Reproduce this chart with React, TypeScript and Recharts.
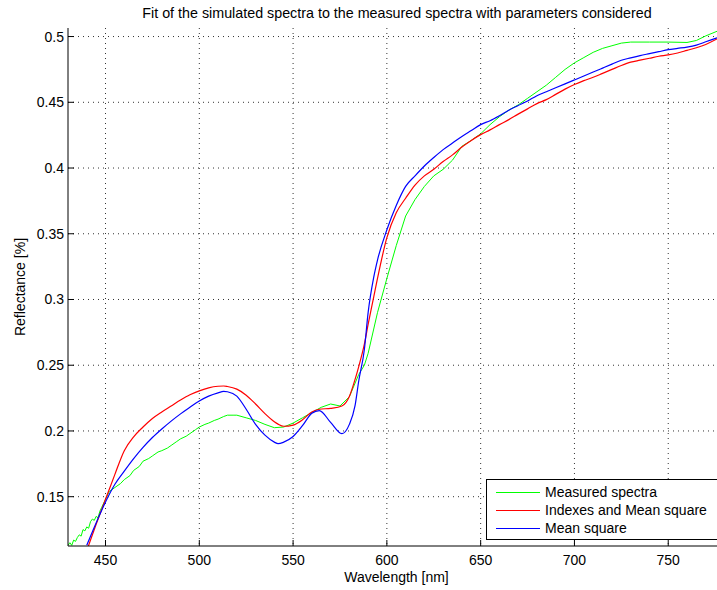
import React from 'react';
import { LineChart, Line, XAxis, YAxis, CartesianGrid, Legend, Label } from 'recharts';

// wavelength grid for the two fitted curves
const fitNm = [
  440, 445, 450, 455, 460, 465, 470, 475, 480, 485, 490, 495, 500, 505, 510, 513, 515, 520, 525, 530,
  535, 540, 542, 545, 550, 555, 560, 564, 570, 576, 580, 583, 585, 588, 590, 593, 595, 600, 605, 610,
  615, 620, 625, 630, 635, 640, 645, 650, 655, 660, 665, 670, 675, 680, 685, 690, 695, 700, 705, 710,
  715, 720, 725, 730, 735, 740, 745, 750, 755, 760, 765, 770, 776,
];
const indexesMeanSquare = [
  0.109, 0.129, 0.148, 0.167, 0.185, 0.1955, 0.203, 0.2095, 0.2145, 0.219, 0.2235, 0.2275, 0.2305, 0.2328, 0.234, 0.2342, 0.2338, 0.2318, 0.2272, 0.2205,
  0.2132, 0.207, 0.2052, 0.2036, 0.2045, 0.2085, 0.2145, 0.2165, 0.2172, 0.219, 0.2263, 0.239, 0.249, 0.266, 0.281, 0.302, 0.316, 0.347, 0.366, 0.377,
  0.387, 0.394, 0.399, 0.405, 0.41, 0.416, 0.421, 0.4254, 0.429, 0.433, 0.4368, 0.441, 0.445, 0.449, 0.452, 0.456, 0.46, 0.4635, 0.4665, 0.469,
  0.472, 0.475, 0.478, 0.4805, 0.482, 0.4835, 0.485, 0.486, 0.4875, 0.4895, 0.4915, 0.494, 0.4982,
];
const meanSquare = [
  0.113, 0.13, 0.146, 0.1595, 0.1695, 0.179, 0.1875, 0.195, 0.2015, 0.2075, 0.213, 0.218, 0.2228, 0.2265, 0.229, 0.2301, 0.2298, 0.2265, 0.2165, 0.205,
  0.1968, 0.1915, 0.1903, 0.1915, 0.1958, 0.204, 0.2135, 0.2155, 0.2065, 0.1979, 0.205, 0.219, 0.238, 0.262, 0.29, 0.317, 0.33, 0.353, 0.3715, 0.386,
  0.394, 0.4015, 0.408, 0.414, 0.419, 0.424, 0.4285, 0.433, 0.436, 0.4398, 0.444, 0.4475, 0.451, 0.455, 0.458, 0.461, 0.464, 0.467, 0.47, 0.473,
  0.476, 0.479, 0.482, 0.4838, 0.4855, 0.487, 0.4885, 0.49, 0.491, 0.492, 0.4935, 0.496, 0.499,
];

// measured spectrum (noisy)
const measuredNm = [
  430, 431, 432, 433, 434, 435, 436, 437, 438, 439, 440, 441, 442, 443, 444, 445, 446, 447, 448, 450,
  452, 455, 458, 460, 463, 465, 468, 470, 473, 475, 478, 480, 483, 485, 488, 490, 493, 495, 498, 500,
  503, 505, 508, 510, 513, 515, 518, 520, 525, 530, 535, 540, 545, 550, 555, 560, 565, 570, 575, 580,
  585, 588, 590, 595, 600, 605, 610, 615, 620, 625, 630, 635, 640, 645, 650, 655, 660, 665, 670, 675,
  680, 685, 690, 695, 700, 705, 710, 715, 720, 725, 730, 740, 750, 760, 765, 770, 776,
];
const measured = [
  0.113, 0.115, 0.113, 0.117, 0.116, 0.119, 0.121, 0.12, 0.125, 0.124, 0.127, 0.126, 0.131, 0.133, 0.132, 0.135, 0.134, 0.139, 0.142, 0.148,
  0.154, 0.157, 0.16, 0.163, 0.166, 0.17, 0.173, 0.177, 0.179, 0.181, 0.184, 0.185, 0.187, 0.189, 0.192, 0.194, 0.196, 0.198, 0.201, 0.203,
  0.205, 0.206, 0.208, 0.209, 0.211, 0.212, 0.212, 0.212, 0.21, 0.208, 0.205, 0.2025, 0.203, 0.206, 0.21, 0.214, 0.218, 0.2205, 0.219, 0.226,
  0.243, 0.25, 0.259, 0.29, 0.316, 0.341, 0.3635, 0.376, 0.386, 0.394, 0.399, 0.406, 0.4165, 0.421, 0.426, 0.433, 0.439, 0.444, 0.448, 0.453,
  0.458, 0.463, 0.469, 0.475, 0.48, 0.484, 0.488, 0.491, 0.493, 0.495, 0.4958, 0.4958, 0.4958, 0.4955, 0.497, 0.5005, 0.504,
];

const xTicks = [450, 500, 550, 600, 650, 700, 750];
const yTicks = [0.15, 0.2, 0.25, 0.3, 0.35, 0.4, 0.45, 0.5];

const measuredData = measuredNm.map((nm, i) => ({ nm, v: measured[i] }));
const indexesData = fitNm.map((nm, i) => ({ nm, v: indexesMeanSquare[i] }));
const meanSquareData = fitNm.map((nm, i) => ({ nm, v: meanSquare[i] }));

const FONT = '"Liberation Sans", Arial, sans-serif';

const YTick = (props: any) => {
  const { x, y, payload } = props;
  return (
    <g>
      <line x1={x} x2={x + 6} y1={y} y2={y} stroke="#000" />
      <text x={x - 4} y={y} dy={5} textAnchor="end" fontSize={14} fill="#000" fontFamily={FONT}>
        {payload.value}
      </text>
    </g>
  );
};

const XTick = (props: any) => {
  const { x, y, payload } = props;
  return (
    <g>
      <line x1={x} x2={x} y1={y} y2={y - 6} stroke="#000" />
      <text x={x} y={y} dy={19} textAnchor="middle" fontSize={14} fill="#000" fontFamily={FONT}>
        {payload.value}
      </text>
    </g>
  );
};

const legendItems = [
  { name: 'Measured spectra', color: '#00ff00' },
  { name: 'Indexes and Mean square', color: '#ff0000' },
  { name: 'Mean square', color: '#0000ff' },
];

const LegendBox = () => (
  <div
    style={{
      width: 240,
      height: 61,
      border: '1px solid #000',
      background: '#fff',
      fontFamily: FONT,
      fontSize: 14,
      paddingTop: 3,
      boxSizing: 'border-box',
      textAlign: 'left',
    }}
  >
    {legendItems.map((it) => (
      <div key={it.name} style={{ display: 'flex', alignItems: 'center', height: 18 }}>
        <div style={{ width: 44, height: 1, background: it.color, marginLeft: 9, marginRight: 5 }} />
        <span>{it.name}</span>
      </div>
    ))}
  </div>
);

export default function App() {
  return (
    <div style={{ position: 'absolute', left: 0, top: 0, width: 717, height: 590, background: '#fff', overflow: 'hidden', fontFamily: FONT }}>
      <div style={{ position: 'absolute', top: 5, left: 0, width: 794, textAlign: 'center', fontSize: 14.3, color: '#000' }}>
        Fit of the simulated spectra to the measured spectra with parameters considered
      </div>
      <LineChart width={717} height={590} margin={{ top: 28, right: 0, bottom: 0, left: 0 }}>
        <CartesianGrid stroke="#333" strokeDasharray="1 4" horizontalValues={yTicks} verticalValues={xTicks} />
        <XAxis
          type="number"
          dataKey="nm"
          domain={[430, 776]}
          ticks={xTicks}
          allowDataOverflow
          height={44}
          stroke="#000"
          tickSize={0}
          tickMargin={0}
          tick={<XTick />}
        >
          <Label value="Wavelength [nm]" position="insideBottom" offset={8} dx={4} fontSize={14} fill="#000" fontFamily={FONT} />
        </XAxis>
        <YAxis
          type="number"
          dataKey="v"
          domain={[0.1125, 0.5065]}
          ticks={yTicks}
          allowDataOverflow
          width={68}
          stroke="#000"
          tickSize={0}
          tickMargin={0}
          tick={<YTick />}
        >
          <Label value="Reflectance [%]" angle={-90} position="insideLeft" offset={20} style={{ textAnchor: 'middle' }} fontSize={14} fill="#000" fontFamily={FONT} />
        </YAxis>
        <Legend
          layout="horizontal"
          verticalAlign="middle"
          align="center"
          wrapperStyle={{ position: 'absolute', left: 486, top: 479, width: 240 }}
          content={<LegendBox />}
        />
        <Line data={measuredData} dataKey="v" name="Measured spectra" stroke="#00ff00" strokeWidth={1} dot={false} type="linear" isAnimationActive={false} />
        <Line data={indexesData} dataKey="v" name="Indexes and Mean square" stroke="#ff0000" strokeWidth={1.2} dot={false} type="monotone" isAnimationActive={false} />
        <Line data={meanSquareData} dataKey="v" name="Mean square" stroke="#0000ff" strokeWidth={1.2} dot={false} type="monotone" isAnimationActive={false} />
      </LineChart>
    </div>
  );
}
